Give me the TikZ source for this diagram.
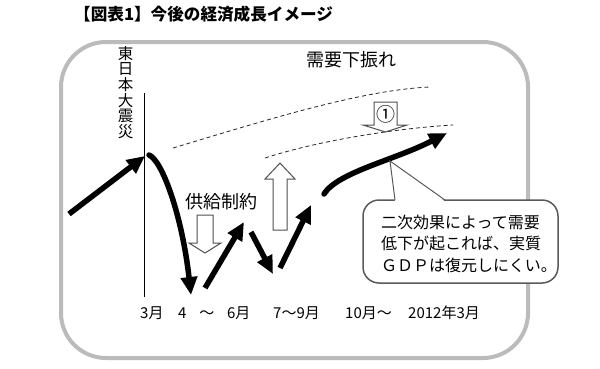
\documentclass[tikz,border=0pt]{standalone}
\usepackage{fontspec}
\setmainfont{Noto Sans CJK JP}
\usetikzlibrary{arrows.meta}
\definecolor{boxgray}{HTML}{BBBBBB}
\definecolor{linegray}{HTML}{5A5A5A}
\definecolor{hollowgray}{HTML}{505050}
\tikzset{
  bigarrow/.style={line width=5.5pt,-{Triangle[length=18pt,width=16pt]}},
  hollow/.style={draw=hollowgray,fill=white,line width=1pt,line join=miter},
  dashcurve/.style={draw=black!85,line width=0.8pt,dash pattern=on 4pt off 3pt},
  lbl/.style={inner sep=0pt,font=\fontsize{15}{15}\selectfont},
  bigtxt/.style={inner sep=0pt,font=\fontsize{18}{18}\selectfont}
}
\begin{document}
\begin{tikzpicture}[x=1pt,y=-1pt]
\useasboundingbox (0,0) rectangle (600,368);
% title
\node[inner sep=0pt,anchor=west,font=\fontsize{16.6}{16.6}\selectfont\bfseries] (title) at (74,14) {【図表1】今後の経済成長イメージ};
% outer box
\draw[boxgray,line width=4pt,rounded corners=45pt] (61,42) rectangle (528,358);
% vertical event line
\coordinate (vtop) at (144,93);
\coordinate (vbot) at (144,297);
\draw[line width=0.9pt] (vtop) -- (vbot);
\node[inner sep=0pt,anchor=north,align=center,font=\fontsize{15.5}{15.6}\selectfont] (quake) at (125.5,46) {東\\日\\本\\大\\震\\災};
% labels
\node[bigtxt] (demand) at (351,60) {需要下振れ};
\node[bigtxt] (supply) at (221.5,202) {供給制約};
% dashed curves
\coordinate (u1) at (173,148); \coordinate (u2) at (430,87);
\draw[dashcurve] (u1) .. controls (260,122) and (360,90) .. (u2);
\coordinate (l1) at (265,158); \coordinate (l2) at (453,125);
\draw[dashcurve] (l1) .. controls (320,140) and (400,128) .. (l2);
% hollow arrows
\draw[hollow] (374,102) -- (397,102) -- (397,125) -- (407,125) -- (385.5,132) -- (363,125) -- (374,125) -- cycle;
\node[inner sep=0pt,font=\fontsize{19}{19}\selectfont] (one) at (386,114) {①};
\draw[hollow] (273,230) -- (273,179) -- (265,179) -- (280,163) -- (295,179) -- (287,179) -- (287,230) -- cycle;
\draw[hollow] (197,215) -- (213,215) -- (213,243) -- (221,243) -- (205,253) -- (189,243) -- (197,243) -- cycle;
% black arrows
\coordinate (a1s) at (69,214); \coordinate (a1e) at (145,156);
\draw[bigarrow] (a1s) -- (a1e);
\coordinate (a2s) at (149,155); \coordinate (a2e) at (191,295);
\draw[bigarrow,line cap=round] (a2s) .. controls (162,160) and (182,215) .. (a2e);
\coordinate (a3s) at (205,288); \coordinate (a3e) at (244,222);
\draw[bigarrow] (a3s) -- (a3e);
\coordinate (a4s) at (251,232); \coordinate (a4e) at (273,274);
\draw[bigarrow] (a4s) -- (a4e);
\coordinate (a5s) at (280,268); \coordinate (a5e) at (311,205);
\draw[bigarrow] (a5s) -- (a5e);
\coordinate (a6s) at (324,194); \coordinate (a6e) at (447,133);
\draw[bigarrow,line cap=round] (a6s) .. controls (338,172) and (395,160) .. (a6e);
% callout
\draw[linegray,fill=white,line width=1.5pt,rounded corners=16pt] (363,200) rectangle (558,283);
\fill[white] (395,201.5) -- (390,161) -- (445,201.5) -- cycle;
\coordinate (ctip) at (390,161);
\draw[linegray,line width=1pt] (395,200) -- (ctip) -- (445,200);
\node[inner sep=0pt,anchor=west,align=left,font=\fontsize{16}{21.5}\selectfont] (note) at (381,243.5) {二次効果によって需要\\低下が起これば、実質\\ＧＤＰは復元しにくい。};
% axis labels
\node[lbl,anchor=west] (m3) at (140,313) {3月};
\node[lbl,anchor=west] (m46) at (178,313) {4\hspace{.85em}～\hspace{.85em}6月};
\node[lbl,anchor=west] (m79) at (273,313) {7～9月};
\node[lbl,anchor=west] (m10) at (345,313) {10月～};
\node[lbl,anchor=west] (m2012) at (408,313) {2012年3月};
\end{tikzpicture}
\end{document}
